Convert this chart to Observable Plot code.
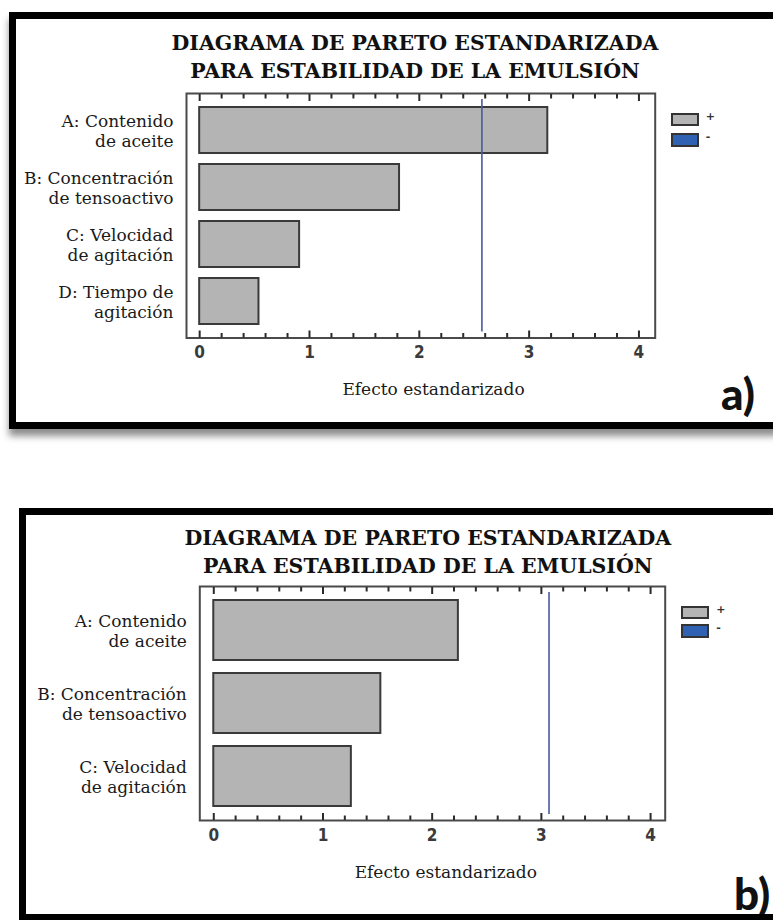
<!DOCTYPE html>
<html>
<head>
<meta charset="utf-8">
<script src="https://cdn.jsdelivr.net/npm/d3@7"></script>
<script src="https://cdn.jsdelivr.net/npm/@observablehq/plot@0.6"></script>
<style>
  html, body { margin: 0; padding: 0; background: #fff; }
  #page { position: relative; width: 773px; height: 920px; overflow: hidden; background: #fff; }
  .border { position: absolute; box-sizing: border-box; border: 7.5px solid #000; background: transparent; z-index: 5; pointer-events: none; }
  .title { position: absolute; transform: translateX(-50%); white-space: nowrap; text-align: center;
           font-family: "DejaVu Serif", serif; font-weight: bold; font-size: 20.5px; line-height: 28px; color: #111; }
  .xlabel { position: absolute; transform: translateX(-50%); white-space: nowrap;
            font-family: "DejaVu Serif", serif; font-size: 17px; line-height: 20px; color: #1a1a1a; }
  .tag { position: absolute; font-family: Lato, sans-serif; font-weight: 900; font-size: 44px; color: #111; white-space: nowrap; }
  .plotbox { position: absolute; }
  .leg { position: absolute; }
  .leg .row { position: absolute; left: 0; display: flex; align-items: flex-start; }
  .leg .sw { box-sizing: border-box; width: 28px; height: 13px; border: 2px solid #333; }
  .leg .sym { font-family: "DejaVu Sans", sans-serif; font-weight: bold; font-size: 11px; color: #333; margin-left: 7px; margin-top: -3px; }
</style>
</head>
<body>
<div id="page"></div>
<script>
// ---------- data ----------
const factorsA = ["A", "B", "C", "D"];
const labelsA = ["A: Contenido\nde aceite", "B: Concentración\nde tensoactivo", "C: Velocidad\nde agitación", "D: Tiempo de\nagitación"];
const effectsA = [3.17, 1.82, 0.91, 0.54];
const criticalA = 2.57;

const factorsB = ["A", "B", "C"];
const labelsB = ["A: Contenido\nde aceite", "B: Concentración\nde tensoactivo", "C: Velocidad\nde agitación"];
const effectsB = [2.24, 1.53, 1.26];
const criticalB = 3.07;

const majorTicks = [0, 1, 2, 3, 4];
const minorTicks = [0.2, 0.4, 0.6, 0.8, 1.2, 1.4, 1.6, 1.8, 2.2, 2.4, 2.6, 2.8, 3.2, 3.4, 3.6, 3.8];

const titleLines = ["DIAGRAMA DE PARETO ESTANDARIZADA", "PARA ESTABILIDAD DE LA EMULSIÓN"];
const xLabel = "Efecto estandarizado";
const legendSigns = ["+", "-"];
const legendColors = ["#b4b4b4", "#2f62b3"];
const panelTags = ["a)", "b)"];

// ---------- helpers ----------
const page = document.getElementById("page");
function el(cls, css, text) {
  const d = document.createElement("div");
  d.className = cls;
  Object.assign(d.style, css);
  if (text != null) d.textContent = text;
  page.appendChild(d);
  return d;
}

const narrow = "'Liberation Sans Narrow', 'DejaVu Sans Condensed', 'Arial Narrow', sans-serif";

function pareto({factors, labels, effects, critical, width, height, marginLeft, marginRight, marginTop, marginBottom, xDomain, padIn, padOut}) {
  const data = factors.map((f, i) => ({factor: f, effect: effects[i]}));
  const lab = new Map(factors.map((f, i) => [f, labels[i]]));
  const tk = {stroke: "#2a2a2a", strokeWidth: 2, fill: "none", label: null};
  return Plot.plot({
    width, height, marginLeft, marginRight, marginTop, marginBottom,
    style: {fontFamily: "DejaVu Serif, serif", fontSize: "17px", background: "none", overflow: "visible", color: "#1a1a1a"},
    x: {domain: xDomain, label: null},
    y: {domain: factors, paddingInner: padIn, paddingOuter: padOut, label: null},
    marks: [
      Plot.barX(data, {x: "effect", y: "factor", fill: "#b4b4b4", stroke: "#3a3a3a", strokeWidth: 2}),
      Plot.ruleX([critical], {stroke: "#4b5a9b", strokeWidth: 1.6, insetTop: 6, insetBottom: 6}),
      Plot.frame({stroke: "#4a4a4a", strokeWidth: 2}),
      // inward ticks along the top and bottom edges of the frame (negative tick size)
      Plot.axisX(majorTicks, {anchor: "top", tickSize: -7, ...tk}),
      Plot.axisX(minorTicks, {anchor: "top", tickSize: -4.5, ...tk}),
      Plot.axisX(majorTicks, {anchor: "bottom", tickSize: -7, ...tk}),
      Plot.axisX(minorTicks, {anchor: "bottom", tickSize: -4.5, ...tk}),
      Plot.axisX(majorTicks, {anchor: "bottom", tickSize: 0, tickPadding: 8, tickFormat: d => String(d),
        fontFamily: narrow, fontSize: 17, fontWeight: "bold", fill: "#3a3a3a", stroke: "none", label: null}),
      Plot.axisY(factors, {anchor: "left", tickSize: 0, tickPadding: 13, tickFormat: d => lab.get(d),
        fontSize: 17, lineHeight: 1.2, fill: "#1a1a1a", label: null})
    ]
  });
}

function panel(p) {
  el("border", {left: p.border.left + "px", top: p.border.top + "px", width: p.border.width + "px", height: p.border.height + "px",
    boxShadow: p.shadow ? "0 7px 7px rgba(0,0,0,0.45)" : "none"});
  const t = el("title", {left: p.titleX + "px", top: p.titleTop + "px"});
  t.innerHTML = titleLines.join("<br>");
  const box = el("plotbox", {left: p.svgLeft + "px", top: p.svgTop + "px"});
  box.appendChild(pareto(p.plot));
  el("xlabel", {left: p.xlabelX + "px", top: p.xlabelTop + "px"}, xLabel);
  const leg = el("leg", {left: p.legLeft + "px", top: p.legTop + "px"});
  legendSigns.forEach((s, i) => {
    const r = document.createElement("div");
    r.className = "row";
    r.style.top = (i * p.legStep) + "px";
    const sw = document.createElement("div");
    sw.className = "sw";
    sw.style.background = legendColors[i];
    if (i === 1) sw.style.height = "14px";
    const sy = document.createElement("div");
    sy.className = "sym";
    sy.textContent = s;
    r.appendChild(sw); r.appendChild(sy);
    leg.appendChild(r);
  });
  el("tag", {left: p.tagLeft + "px", top: p.tagTop + "px"}, p.tag);
}

panel({
  border: {left: 9.3, top: 11.7, width: 800, height: 417.5},
  shadow: true,
  titleX: 415, titleTop: 28.7,
  svgLeft: 20, svgTop: 88,
  plot: {factors: factorsA, labels: labelsA, effects: effectsA, critical: criticalA,
    width: 753, height: 300, marginLeft: 166, marginRight: 118.3, marginTop: 5, marginBottom: 50.5,
    xDomain: [-0.12, 4.148], padIn: 0.19, padOut: 0.216},
  xlabelX: 433.5, xlabelTop: 379,
  legLeft: 670.7, legTop: 113.3, legStep: 20,
  tag: panelTags[0], tagLeft: 721, tagTop: 366.6
});

panel({
  border: {left: 19.3, top: 507.7, width: 800, height: 413.5},
  shadow: false,
  titleX: 427.8, titleTop: 523.7,
  svgLeft: 30, svgTop: 581,
  plot: {factors: factorsB, labels: labelsB, effects: effectsB, critical: criticalB,
    width: 743, height: 300, marginLeft: 169.3, marginRight: 108.3, marginTop: 5, marginBottom: 61,
    xDomain: [-0.128, 4.134], padIn: 0.176, padOut: 0.183},
  xlabelX: 445.8, xlabelTop: 862,
  legLeft: 681.3, legTop: 605.7, legStep: 18.6,
  tag: panelTags[1], tagLeft: 734, tagTop: 866.6
});
</script>
</body>
</html>
